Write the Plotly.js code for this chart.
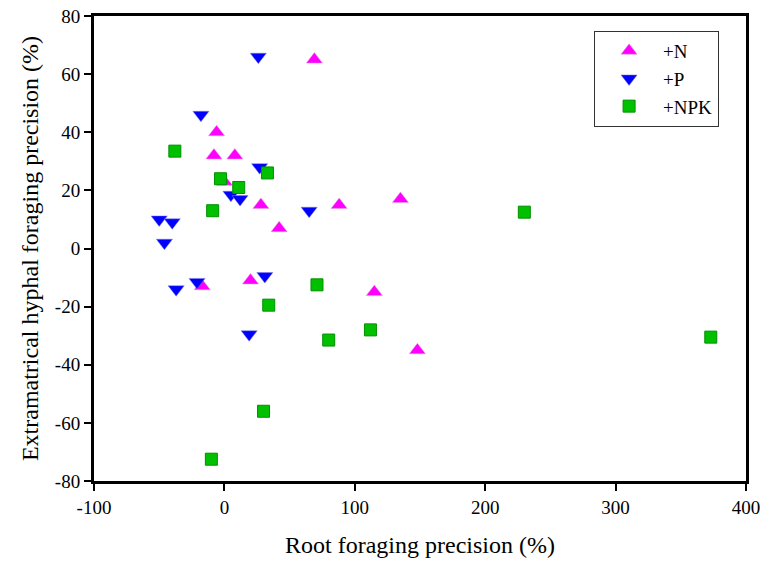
<!DOCTYPE html>
<html>
<head>
<meta charset="utf-8">
<script src="https://cdn.plot.ly/plotly-3.0.1.min.js"></script>
<style>html,body{margin:0;padding:0;background:#fff;}#chart{width:771px;height:561px;}</style>
</head>
<body>
<div id="chart"></div>
<script>
// +N
const nX = [69, -6, -8, 8, 0, 28, 42, 88, 135, -17, 20, 115, 148];
const nY = [65, 40, 32, 32, 23, 15, 7, 15, 17, -13, -11, -15, -35];
// +P
const pX = [26, -18, 27, 5, 12, -50, -40, -46, 65, -37, -21, 31, 19];
const pY = [66, 46, 28, 18.5, 17, 10, 9, 2, 13, -14, -11.5, -9.5, -29.5];
// +NPK
const kX = [-38, 33, -3, 11, -9, 34, 30, -10, 71, 112, 80, 230, 373];
const kY = [33.5, 26, 24, 21, 13, -19.5, -56, -72.5, -12.5, -28, -31.5, 12.5, -30.5];

const seriesNames = ['+N', '+P', '+NPK'];

// tick labels (plain hyphen as in the original)
const xTickVals = [-100, 0, 100, 200, 300, 400];
const xTickText = ['-100', '0', '100', '200', '300', '400'];
const yTickVals = [-80, -60, -40, -20, 0, 20, 40, 60, 80];
const yTickText = ['-80', '-60', '-40', '-20', '0', '20', '40', '60', '80'];

const font = 'Liberation Serif, Times New Roman, serif';

const traces = [
  {x: nX, y: nY, name: seriesNames[0], type: 'scatter', mode: 'markers',
   marker: {symbol: 'triangle-up', size: 14, color: '#ff00ff', line: {width: 0.5, color: '#e0a0e0'}}},
  {x: pX, y: pY, name: seriesNames[1], type: 'scatter', mode: 'markers',
   marker: {symbol: 'triangle-down', size: 14, color: '#0000ff', line: {width: 0.5, color: '#8080e0'}}},
  {x: kX, y: kY, name: seriesNames[2], type: 'scatter', mode: 'markers',
   marker: {symbol: 'square', size: 12, color: '#00c000', line: {width: 1, color: '#009000'}}}
];

const layout = {
  width: 771, height: 561,
  margin: {l: 94, r: 25, t: 16, b: 80},
  paper_bgcolor: '#fff', plot_bgcolor: '#fff',
  font: {family: font, color: '#000', size: 19},
  showlegend: true,
  legend: {
    x: 0.767, y: 0.968, xanchor: 'left', yanchor: 'top',
    bgcolor: '#fff', bordercolor: '#333', borderwidth: 1,
    font: {family: font, size: 19, color: '#000'},
    itemwidth: 58, tracegroupgap: 0
  },
  xaxis: {
    range: [-100, 400], tickmode: 'array', tickvals: xTickVals, ticktext: xTickText,
    showgrid: false, zeroline: false,
    showline: true, linecolor: '#000', linewidth: 3, mirror: true,
    ticks: 'outside', ticklen: 7, tickwidth: 2, tickcolor: '#000',
    tickfont: {family: font, size: 19},
    title: {text: 'Root foraging precision (%)', font: {family: font, size: 24}, standoff: 20}
  },
  yaxis: {
    range: [-80, 80], tickmode: 'array', tickvals: yTickVals, ticktext: yTickText,
    showgrid: false, zeroline: false,
    showline: true, linecolor: '#000', linewidth: 3, mirror: true,
    ticks: 'outside', ticklen: 7, tickwidth: 2, tickcolor: '#000',
    tickfont: {family: font, size: 19},
    title: {text: 'Extramatrical hyphal foraging precision (%)', font: {family: font, size: 24}, standoff: 10}
  }
};

Plotly.newPlot('chart', traces, layout, {displayModeBar: false, staticPlot: true});
</script>
</body>
</html>
